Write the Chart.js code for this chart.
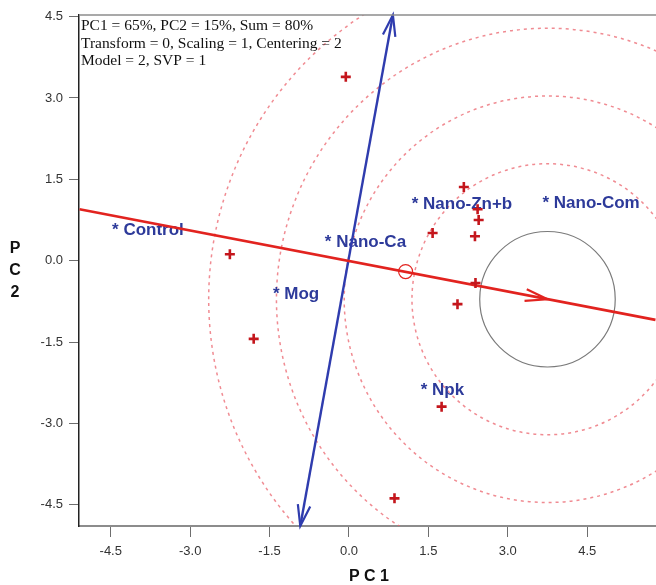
<!DOCTYPE html>
<html>
<head>
<meta charset="utf-8">
<script src="https://cdn.jsdelivr.net/npm/chart.js@4.4.0/dist/chart.umd.min.js"></script>
<style>
  html, body { margin: 0; padding: 0; background: #fff; }
</style>
</head>
<body>
<canvas id="biplot" width="656" height="585"></canvas>
<script>
// genotypes (treatments), drawn as "* name"
const genotypes = ['Control', 'Nano-Ca', 'Nano-Zn+b', 'Nano-Com', 'Mog', 'Npk'];
const genoPC1 = [-4.40, -0.38, 1.26, 3.73, -1.36, 1.43];
const genoPC2 = [0.64, 0.42, 1.12, 1.14, -0.54, -2.31];

// environments, drawn as red crosses
const envPC1 = [-0.06, -2.25, -1.80, 0.86, 1.75, 2.05, 2.39, 2.17, 2.43, 2.45, 2.38, 1.58];
const envPC2 = [3.39, 0.12, -1.44, -4.38, -2.69, -0.80, -0.41, 1.36, 0.95, 0.75, 0.45, 0.51];

// average environment axis and its perpendicular
const avgEnv = [1.07, -0.20];
const aecPC1 = [-5.09, 5.79];
const aecPC2 = [0.95, -1.09];
const ordPC1 = [-0.92, 0.83];
const ordPC2 = [-4.89, 4.53];

// ideal point and concentric rings
const idealPoint = [3.75, -0.71];
const ringStep = 1.28;
const ringCount = 5;

const xTicks = [-4.5, -3.0, -1.5, 0.0, 1.5, 3.0, 4.5];
const yTicks = [-4.5, -3.0, -1.5, 0.0, 1.5, 3.0, 4.5];
const infoLines = [
  'PC1 = 65%, PC2 = 15%, Sum = 80%',
  'Transform = 0, Scaling = 1, Centering = 2',
  'Model = 2, SVP = 1'
];

const RED = '#e2231f';
const BLUE = '#2f3cae';
const LABEL = '#2d3a9a';
const SANS = '"Liberation Sans", Arial, sans-serif';

function arrowHead(ctx, tipX, tipY, fromX, fromY, len, ang, color) {
  const a = Math.atan2(fromY - tipY, fromX - tipX);
  ctx.save();
  ctx.strokeStyle = color;
  ctx.lineWidth = 2.2;
  ctx.beginPath();
  ctx.moveTo(tipX + len * Math.cos(a + ang), tipY + len * Math.sin(a + ang));
  ctx.lineTo(tipX, tipY);
  ctx.lineTo(tipX + len * Math.cos(a - ang), tipY + len * Math.sin(a - ang));
  ctx.stroke();
  ctx.restore();
}

const biplotExtras = {
  id: 'biplotExtras',
  beforeDatasetsDraw(chart) {
    const { ctx, chartArea: ca, scales: { x, y } } = chart;
    ctx.save();
    ctx.beginPath();
    ctx.rect(ca.left, ca.top, ca.right - ca.left, ca.bottom - ca.top);
    ctx.clip();

    // rings round the ideal point
    const cx = x.getPixelForValue(idealPoint[0]);
    const cy = y.getPixelForValue(idealPoint[1]);
    const step = x.getPixelForValue(ringStep) - x.getPixelForValue(0);
    for (let k = 1; k <= ringCount; k++) {
      ctx.beginPath();
      ctx.arc(cx, cy, step * k, 0, Math.PI * 2);
      if (k === 1) {
        ctx.setLineDash([]);
        ctx.strokeStyle = '#7a7a7a';
        ctx.lineWidth = 1.2;
      } else {
        ctx.setLineDash([3, 4]);
        ctx.strokeStyle = 'rgba(235, 100, 110, 0.75)';
        ctx.lineWidth = 1.5;
      }
      ctx.stroke();
    }
    ctx.setLineDash([]);

    // genotype labels
    ctx.fillStyle = LABEL;
    ctx.font = 'bold 17px ' + SANS;
    ctx.textAlign = 'left';
    ctx.textBaseline = 'middle';
    genotypes.forEach((g, i) => {
      const px = x.getPixelForValue(genoPC1[i]);
      const py = y.getPixelForValue(genoPC2[i]);
      ctx.fillText('* ' + g, px - 4, py + 4);
    });
    ctx.restore();
  },
  afterDatasetsDraw(chart) {
    const { ctx, chartArea: ca, scales: { x, y } } = chart;

    // arrows on the ordinate, both ends
    const tx = x.getPixelForValue(ordPC1[1]), ty = y.getPixelForValue(ordPC2[1]);
    const bx = x.getPixelForValue(ordPC1[0]), by = y.getPixelForValue(ordPC2[0]);
    arrowHead(ctx, tx, ty, bx, by, 22, 0.29, BLUE);
    arrowHead(ctx, bx, by, tx, ty, 22, 0.29, BLUE);

    // arrow on the abscissa at the ideal point
    const ix = x.getPixelForValue(idealPoint[0]), iy = y.getPixelForValue(idealPoint[1]);
    const lx = x.getPixelForValue(aecPC1[0]), ly = y.getPixelForValue(aecPC2[0]);
    arrowHead(ctx, ix, iy, lx, ly, 23, 0.26, RED);

    // plot frame top edge
    ctx.save();
    ctx.strokeStyle = '#8c8c8c';
    ctx.lineWidth = 1.5;
    ctx.beginPath();
    ctx.moveTo(ca.left, ca.top);
    ctx.lineTo(ca.right, ca.top);
    ctx.stroke();

    // info text
    ctx.fillStyle = '#111';
    ctx.font = '15.5px "Liberation Serif", "Times New Roman", serif';
    ctx.textAlign = 'left';
    ctx.textBaseline = 'middle';
    infoLines.forEach((t, i) => ctx.fillText(t, ca.left + 2, 26 + i * 17.5));

    // axis titles
    ctx.fillStyle = '#111';
    ctx.font = 'bold 16px ' + SANS;
    ctx.textAlign = 'center';
    ['P', 'C', '2'].forEach((c, i) => ctx.fillText(c, 15, 249 + i * 22));
    ctx.fillText('P C 1', 369, 577);
    ctx.restore();
  }
};

const tickFont = { family: SANS, size: 13 };

new Chart(document.getElementById('biplot'), {
  type: 'scatter',
  data: {
    datasets: [
      {
        label: 'Environments',
        data: envPC1.map((v, i) => ({ x: v, y: envPC2[i] })),
        pointStyle: 'cross',
        pointRadius: 5,
        borderWidth: 2.6,
        borderColor: '#c4161c'
      },
      {
        label: 'Average environment',
        data: [{ x: avgEnv[0], y: avgEnv[1] }],
        pointStyle: 'circle',
        pointRadius: 7,
        borderWidth: 1.2,
        borderColor: RED,
        backgroundColor: 'rgba(0,0,0,0)'
      },
      {
        label: 'AEC abscissa',
        data: aecPC1.map((v, i) => ({ x: v, y: aecPC2[i] })),
        showLine: true,
        pointRadius: 0,
        borderColor: RED,
        borderWidth: 2.6
      },
      {
        label: 'AEC ordinate',
        data: ordPC1.map((v, i) => ({ x: v, y: ordPC2[i] })),
        showLine: true,
        pointRadius: 0,
        borderColor: BLUE,
        borderWidth: 2.4
      }
    ]
  },
  options: {
    responsive: false,
    animation: false,
    layout: { autoPadding: false, padding: { top: 15, right: 0, left: 0, bottom: 0 } },
    plugins: { legend: { display: false }, tooltip: { enabled: false } },
    scales: {
      x: {
        type: 'linear',
        min: -5.1,
        max: 5.8,
        afterBuildTicks: s => { s.ticks = xTicks.map(v => ({ value: v })); },
        afterFit: s => { s.height = 59; s.paddingLeft = 0; s.paddingRight = 0; },
        ticks: {
          callback: v => Number(v).toFixed(1),
          font: tickFont,
          color: '#333',
          padding: 7,
          maxRotation: 0,
          autoSkip: false
        },
        grid: { drawOnChartArea: false, drawTicks: true, tickLength: 11, color: '#6e6e6e' },
        border: { color: '#8c8c8c', width: 2 }
      },
      y: {
        type: 'linear',
        min: -4.89,
        max: 4.53,
        afterBuildTicks: s => { s.ticks = yTicks.map(v => ({ value: v })); },
        afterFit: s => { s.width = 79; s.paddingTop = 0; s.paddingBottom = 0; },
        ticks: {
          callback: v => Number(v).toFixed(1),
          font: tickFont,
          color: '#333',
          padding: 6,
          autoSkip: false
        },
        grid: { drawOnChartArea: false, drawTicks: true, tickLength: 10, color: '#6e6e6e' },
        border: { color: '#222', width: 1.5 }
      }
    }
  },
  plugins: [biplotExtras]
});
</script>
</body>
</html>
